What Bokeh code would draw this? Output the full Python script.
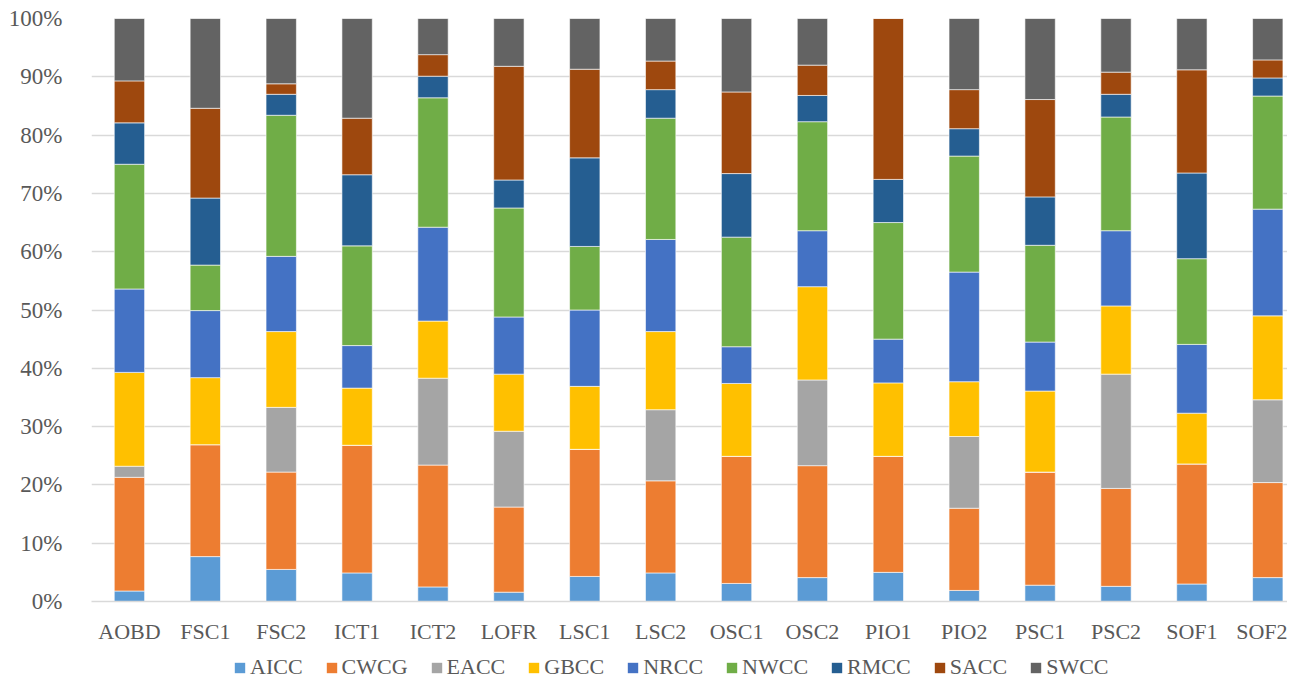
from bokeh.plotting import figure
from bokeh.layouts import column
from bokeh.models import (ColumnDataSource, Range1d, FixedTicker, NumeralTickFormatter,
                          Legend, LegendItem)
from bokeh.embed import file_html
from bokeh.resources import INLINE

categories = ["AOBD", "FSC1", "FSC2", "ICT1", "ICT2", "LOFR", "LSC1", "LSC2",
              "OSC1", "OSC2", "PIO1", "PIO2", "PSC1", "PSC2", "SOF1", "SOF2"]
series = ["AICC", "CWCG", "EACC", "GBCC", "NRCC", "NWCC", "RMCC", "SACC", "SWCC"]
colors = ["#5B9BD5", "#ED7D31", "#A5A5A5", "#FFC000", "#4472C4", "#70AD47",
          "#255E91", "#9E480E", "#636363"]

AICC = [1.8, 7.7, 5.5, 4.9, 2.5, 1.6, 4.3, 4.9, 3.1, 4.1, 5.0, 1.9, 2.8, 2.6, 3.0, 4.1]
CWCG = [19.5, 19.2, 16.7, 21.9, 20.9, 14.6, 21.8, 15.8, 21.8, 19.2, 19.9, 14.1, 19.4, 16.8, 20.6, 16.3]
EACC = [1.9, 0, 11.1, 0, 14.9, 13.0, 0, 12.2, 0, 14.7, 0, 12.3, 0, 19.6, 0, 14.2]
GBCC = [16.1, 11.5, 13.0, 9.8, 9.8, 9.8, 10.8, 13.4, 12.5, 16.0, 12.6, 9.4, 13.9, 11.7, 8.7, 14.4]
NRCC = [14.3, 11.5, 12.9, 7.3, 16.1, 9.8, 13.1, 15.8, 6.3, 9.6, 7.5, 18.8, 8.4, 12.9, 11.8, 18.3]
NWCC = [21.4, 7.8, 24.2, 17.1, 22.2, 18.7, 10.9, 20.8, 18.8, 18.7, 20.0, 19.9, 16.6, 19.5, 14.7, 19.4]
RMCC = [7.1, 11.5, 3.6, 12.2, 3.7, 4.8, 15.2, 4.9, 10.9, 4.5, 7.4, 4.7, 8.3, 3.9, 14.7, 3.1]
SACC = [7.2, 15.4, 1.8, 9.7, 3.7, 19.5, 15.2, 4.9, 14.0, 5.2, 27.6, 6.7, 16.7, 3.8, 17.7, 3.1]
SWCC = [10.7, 15.4, 11.2, 17.1, 6.2, 8.2, 8.7, 7.3, 12.6, 8.0, 0, 12.2, 13.9, 9.2, 8.8, 7.1]

y_ticks = [0, 0.1, 0.2, 0.3, 0.4, 0.5, 0.6, 0.7, 0.8, 0.9, 1.0]

raw = {"AICC": AICC, "CWCG": CWCG, "EACC": EACC, "GBCC": GBCC, "NRCC": NRCC,
       "NWCC": NWCC, "RMCC": RMCC, "SACC": SACC, "SWCC": SWCC}
totals = [sum(raw[s][i] for s in series) for i in range(len(categories))]
data = {"x": list(range(len(categories)))}
for s in series:
    data[s] = [v / t for v, t in zip(raw[s], totals)]
source = ColumnDataSource(data)

FONT = "Liberation Serif"
TXT = "#595959"

# main chart
p = figure(width=1287, height=651, output_backend="svg", toolbar_location=None,
           x_range=Range1d(-0.5, 15.26), y_range=Range1d(0, 1),
           min_border_left=91, min_border_right=0, min_border_top=18,
           min_border_bottom=50)
p.outline_line_color = None
p.background_fill_color = "white"
p.border_fill_color = "white"

p.vbar_stack(series, x="x", width=0.4, source=source, color=colors,
             line_color="white", line_width=0.6)

p.xgrid.visible = False
p.ygrid.grid_line_color = "#D9D9D9"
p.ygrid.grid_line_width = 1.3
p.ygrid.ticker = FixedTicker(ticks=y_ticks)

p.yaxis.ticker = FixedTicker(ticks=y_ticks)
p.yaxis.formatter = NumeralTickFormatter(format="0%")
p.yaxis.axis_line_color = None
p.yaxis.major_tick_line_color = None
p.yaxis.minor_tick_line_color = None
p.yaxis.major_label_standoff = 23
p.yaxis.major_label_text_font = FONT
p.yaxis.major_label_text_font_size = "23px"
p.yaxis.major_label_text_color = TXT

p.xaxis.ticker = FixedTicker(ticks=list(range(len(categories))))
p.xaxis.major_label_overrides = {i: c for i, c in enumerate(categories)}
p.xaxis.axis_line_color = "#D9D9D9"
p.xaxis.axis_line_width = 1.3
p.xaxis.major_tick_line_color = None
p.xaxis.minor_tick_line_color = None
p.xaxis.major_label_standoff = 11
p.xaxis.major_label_text_font = FONT
p.xaxis.major_label_text_font_size = "22px"
p.xaxis.major_label_text_color = TXT

# legend strip: zero-height stacked bars only provide the legend swatches
legend_src = ColumnDataSource({"x": [0], **{s: [0] for s in series}})
pl = figure(width=1287, height=29, output_backend="svg", toolbar_location=None,
            x_range=Range1d(0, 1), y_range=Range1d(0, 1),
            x_axis_type=None, y_axis_type=None,
            min_border_left=0, min_border_right=0, min_border_top=0,
            min_border_bottom=0)
pl.outline_line_color = None
pl.grid.visible = False
pl.border_fill_color = "white"
leg_renderers = pl.vbar_stack(series, x="x", width=0.4, source=legend_src, color=colors,
                              line_color=None)

items = [LegendItem(label=s, renderers=[r]) for s, r in zip(series, leg_renderers)]
legend = Legend(items=items, orientation="horizontal", location=(142, 0),
                label_text_font=FONT, label_text_font_size="22px",
                label_text_color=TXT, glyph_width=13, glyph_height=13,
                label_standoff=4, spacing=22, padding=0, margin=0,
                border_line_color=None, background_fill_alpha=0)
pl.add_layout(legend, "center")

layout = column(p, pl, spacing=0)
open("out.html", "w").write(file_html(layout, INLINE))
